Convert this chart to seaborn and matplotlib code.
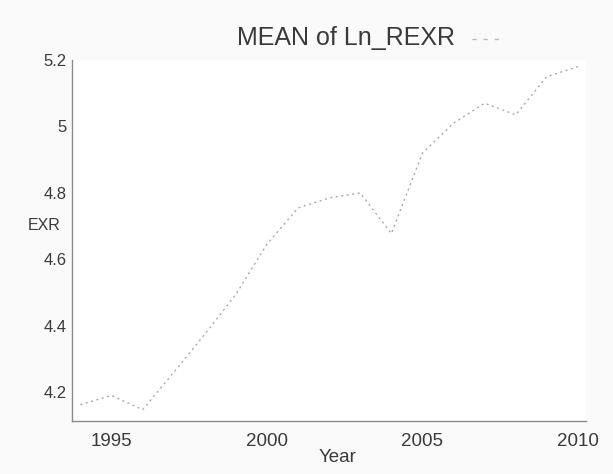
import matplotlib
matplotlib.use('Agg')
import matplotlib.pyplot as plt
from matplotlib.lines import Line2D
import seaborn as sns
import pandas as pd

# values
years = [1994, 1995, 1996, 1997, 1998, 1999, 2000, 2001, 2002,
         2003, 2004, 2005, 2006, 2007, 2008, 2009, 2010]
ln_rexr = [4.163, 4.191, 4.148, 4.26, 4.375, 4.495, 4.646, 4.755, 4.785,
           4.80, 4.678, 4.92, 5.01, 5.07, 5.035, 5.15, 5.18]
x_ticks = [1995, 2000, 2005, 2010]
y_ticks = [4.2, 4.4, 4.6, 4.8, 5.0, 5.2]
y_tick_labels = ['4.2', '4.4', '4.6', '4.8', '5', '5.2']

df = pd.DataFrame({'Year': years, 'EXR': ln_rexr})

sns.set_style('white')
plt.rcParams['font.family'] = ['Liberation Sans', 'DejaVu Sans']

axis_col = '#8a8a8a'
text_col = '#3a3a3a'
line_col = '#ababab'

fig = plt.figure(figsize=(6.13, 4.74), dpi=100, facecolor='#fafafa')
ax = fig.add_axes([72 / 613, 1 - 421 / 474, (586 - 72) / 613, (421 - 60) / 474])
ax.set_facecolor('white')

sns.lineplot(data=df, x='Year', y='EXR', ax=ax, color=line_col,
             linewidth=1.0, linestyle=(0, (1.5, 2.5)))

ax.set_xlim(1993.73, 2010.26)
ax.set_ylim(4.114, 5.2)
ax.set_xticks(x_ticks)
ax.set_yticks(y_ticks)
ax.set_yticklabels(y_tick_labels)

# spines: only left and bottom, grey
for s in ['top', 'right']:
    ax.spines[s].set_visible(False)
for s in ['left', 'bottom']:
    ax.spines[s].set_color(axis_col)
    ax.spines[s].set_linewidth(1.0)

ax.tick_params(axis='x', direction='in', length=5, color=axis_col,
               labelsize=13.5, labelcolor=text_col, pad=9)
ax.tick_params(axis='y', direction='out', length=3, color=axis_col,
               labelsize=12, labelcolor=text_col, pad=1)

ax.set_xlabel('Year', fontsize=13.5, color=text_col, va='center')
ax.xaxis.set_label_coords((338 - 72) / (586 - 72), -(457 - 421) / (421 - 60))
ax.set_ylabel('EXR', fontsize=11.5, color=text_col, rotation=0,
              ha='center', va='center')
ax.yaxis.set_label_coords(-(72 - 44) / (586 - 72), (421 - 225) / (421 - 60))

# title with a short line sample to its right
fig.text(346 / 613, 1 - 38 / 474, 'MEAN of Ln_REXR', ha='center', va='center',
         fontsize=18, color=text_col)
handle = Line2D([], [], color='#b8b8b8', linewidth=1.0, linestyle=(0, (3, 5)))
ax.legend(handles=[handle], labels=[''], loc='center', frameon=False,
          bbox_to_anchor=(488 / 613, 1 - 40 / 474), bbox_transform=fig.transFigure,
          handlelength=2.3, handletextpad=0)

fig.savefig('out.png', dpi=100, facecolor=fig.get_facecolor())
